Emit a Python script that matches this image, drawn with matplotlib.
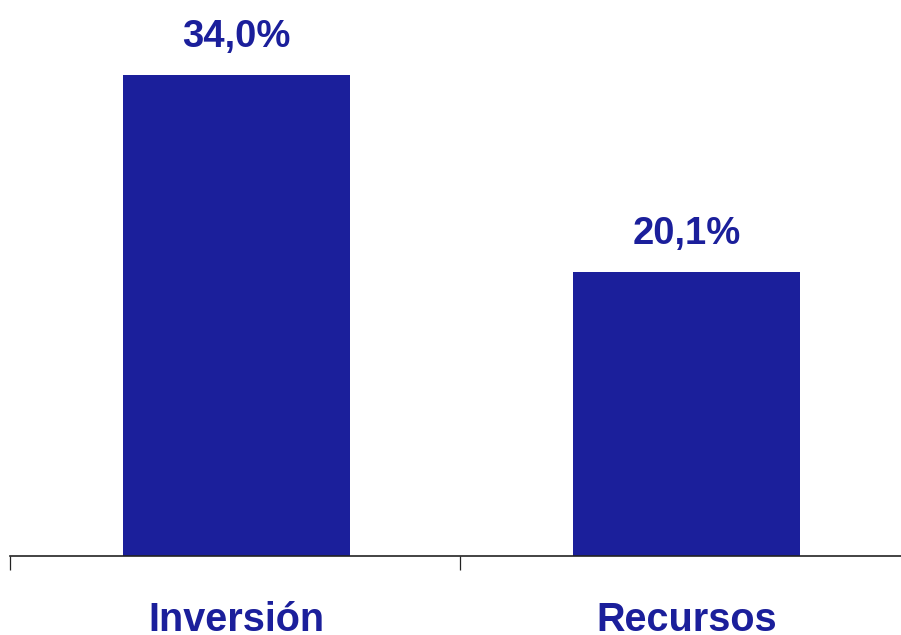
import matplotlib
matplotlib.use("Agg")
import matplotlib.pyplot as plt
from matplotlib.ticker import FixedLocator, NullFormatter

categories = ["Inversión", "Recursos"]
values = [34.0, 20.1]
value_labels = ["34,0%", "20,1%"]

BLUE = "#1B1F9B"
plt.rcParams["font.family"] = ["Liberation Sans", "DejaVu Sans"]

W, H = 901, 635
fig = plt.figure(figsize=(W / 100, H / 100), dpi=100)
base_y = 556
ax = fig.add_axes([10 / W, (H - base_y) / H, 900 / W, base_y / H])

x = list(range(len(categories)))
ax.bar([xi + 0.004 for xi in x], values, width=0.505, color=BLUE, zorder=2)

ax.set_xlim(-0.5, len(categories) - 0.5)
ax.set_ylim(0, 556 / 14.15)

for s in ("top", "right", "left"):
    ax.spines[s].set_visible(False)
ax.spines["bottom"].set_linewidth(1.2)
ax.spines["bottom"].set_color("#222222")
ax.set_yticks([])

# tick marks at category boundaries, labels at centres
ax.xaxis.set_major_locator(FixedLocator([i - 0.5 for i in range(len(categories) + 1)]))
ax.xaxis.set_major_formatter(NullFormatter())
ax.tick_params(axis="x", which="major", length=10, width=0.9, color="#222222", direction="out")

for xi, name in zip(x, categories):
    ax.annotate(name, xy=(xi + 0.004, 0), xycoords=("data", "axes fraction"),
                xytext=(0, -54), textcoords="offset points",
                ha="center", va="baseline", fontsize=28.5, fontweight="bold",
                color=BLUE, annotation_clip=False)

for xi, v, lab in zip(x, values, value_labels):
    ax.annotate(lab, xy=(xi + 0.004, v), xytext=(0, 20), textcoords="offset points",
                ha="center", va="baseline", fontsize=27.5, fontweight="bold",
                color=BLUE)

fig.savefig("out.png", dpi=100)
